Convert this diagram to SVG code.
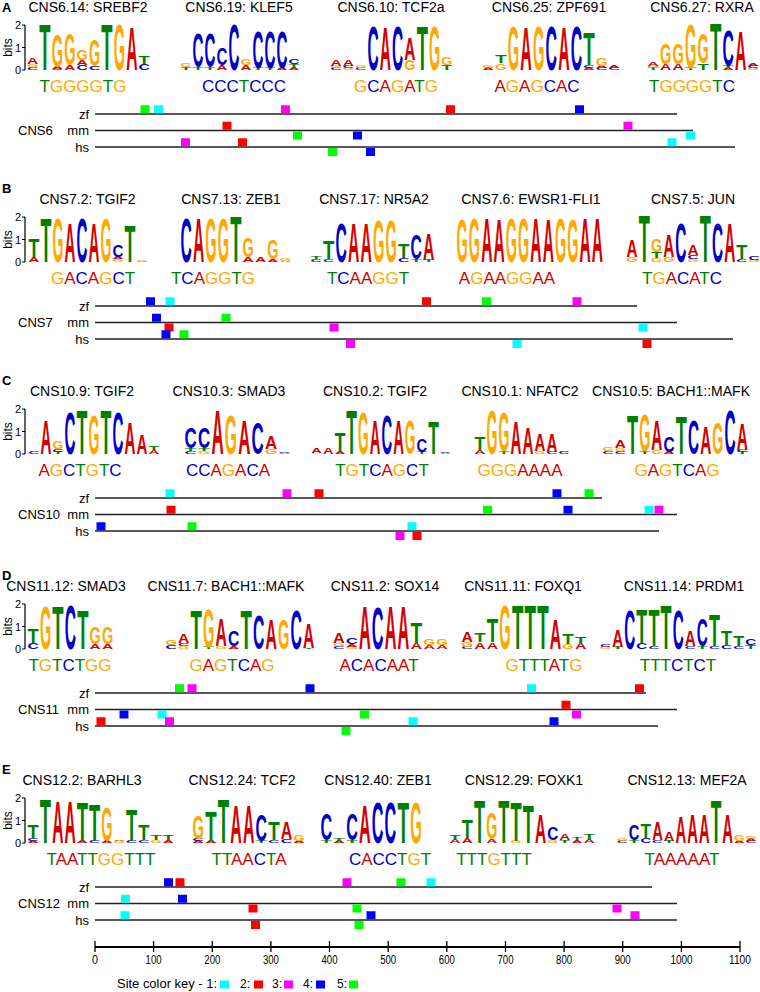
<svg xmlns="http://www.w3.org/2000/svg" width="760" height="992" viewBox="0 0 760 992">
<style>
text{font-family:"Liberation Sans",Arial,Helvetica,sans-serif;fill:#000}
.ttl{font-size:14px;text-anchor:middle}
.pl{font-size:13px;font-weight:bold}
.lg text{font-size:14px;font-weight:bold}
.A{fill:#d40000}.C{fill:#0000c8}.G{fill:#ffa800}.T{fill:#008000}
.cs{font-size:17px;text-anchor:middle}
.trk{font-size:13px}
.tr{text-anchor:end}
.ln{stroke:#222;stroke-width:1.5}
.c1{fill:#00ffff}.c2{fill:#ff0000}.c3{fill:#ff00ff}.c4{fill:#0000ff}.c5{fill:#00ff00}
.ax{font-size:12px;text-anchor:middle}
.yl{font-size:11px;text-anchor:end}
.bits{font-size:12px;text-anchor:middle}
.key{font-size:13px}
</style>

<!-- ================= PANEL A ================= -->
<g id="panelA">
<text class="pl" x="2" y="12">A</text>
<text class="ttl" x="88" y="12">CNS6.14: SREBF2</text>
<text class="ttl" x="239" y="12">CNS6.19: KLEF5</text>
<text class="ttl" x="391" y="12">CNS6.10: TCF2a</text>
<text class="ttl" x="549" y="12">CNS6.25: ZPF691</text>
<text class="ttl" x="702" y="12">CNS6.27: RXRA</text>
<g id="yaxA"><text class="bits" transform="translate(12,47.5) rotate(-90)">bits</text><text class="yl" x="21" y="29">2</text><text class="yl" x="21" y="51.5">1</text><text class="yl" x="21" y="74">0</text><path d="M25 25V70M22 25H25M22 47.5H25M22 70H25" stroke="#000" stroke-width="1.2" fill="none"/></g>
<g id="logoA1" class="lg" transform="translate(26.4,70) scale(1.127,1)">
<text x="0.5" class="C" textLength="10" lengthAdjust="spacingAndGlyphs" transform="scale(1,.3)">C</text>
<text x="0.5" class="G" textLength="10" lengthAdjust="spacingAndGlyphs" transform="translate(0,-3)scale(1,.3)">G</text>
<text x="0.5" class="A" textLength="10" lengthAdjust="spacingAndGlyphs" transform="translate(0,-6)scale(1,.6)">A</text>
<text x="11.5" class="T" textLength="10" lengthAdjust="spacingAndGlyphs" transform="scale(1,4.6)">T</text>
<text x="22.5" class="C" textLength="10" lengthAdjust="spacingAndGlyphs" transform="scale(1,.15)">C</text>
<text x="22.5" class="A" textLength="10" lengthAdjust="spacingAndGlyphs" transform="translate(0,-1.5)scale(1,.2)">A</text>
<text x="22.5" class="G" textLength="10" lengthAdjust="spacingAndGlyphs" transform="translate(0,-3.5)scale(1,3.3)">G</text>
<text x="33.5" class="A" textLength="10" lengthAdjust="spacingAndGlyphs" transform="scale(1,.5)">A</text>
<text x="33.5" class="G" textLength="10" lengthAdjust="spacingAndGlyphs" transform="translate(0,-5)scale(1,3.2)">G</text>
<text x="44.5" class="C" textLength="10" lengthAdjust="spacingAndGlyphs" transform="scale(1,.5)">C</text>
<text x="44.5" class="A" textLength="10" lengthAdjust="spacingAndGlyphs" transform="translate(0,-5)scale(1,.5)">A</text>
<text x="44.5" class="G" textLength="10" lengthAdjust="spacingAndGlyphs" transform="translate(0,-10)scale(1,1)">G</text>
<text x="55.5" class="C" textLength="10" lengthAdjust="spacingAndGlyphs" transform="scale(1,.4)">C</text>
<text x="55.5" class="G" textLength="10" lengthAdjust="spacingAndGlyphs" transform="translate(0,-4)scale(1,2.6)">G</text>
<text x="66.5" class="T" textLength="10" lengthAdjust="spacingAndGlyphs" transform="scale(1,4.6)">T</text>
<text x="77.5" class="G" textLength="10" lengthAdjust="spacingAndGlyphs" transform="scale(1,4.6)">G</text>
<text x="88.5" class="A" textLength="10" lengthAdjust="spacingAndGlyphs" transform="scale(1,4.3)">A</text>
<text x="99.5" class="C" textLength="10" lengthAdjust="spacingAndGlyphs" transform="scale(1,.6)">C</text>
<text x="99.5" class="T" textLength="10" lengthAdjust="spacingAndGlyphs" transform="translate(0,-6)scale(1,.8)">T</text>
</g>
<g id="logoA2" class="lg" transform="translate(180,70) scale(1.091,1)">
<text x="0.5" class="T" textLength="10" lengthAdjust="spacingAndGlyphs" transform="scale(1,.3)">T</text>
<text x="0.5" class="G" textLength="10" lengthAdjust="spacingAndGlyphs" transform="translate(0,-3)scale(1,.4)">G</text>
<text x="11.5" class="T" textLength="10" lengthAdjust="spacingAndGlyphs" transform="scale(1,.3)">T</text>
<text x="11.5" class="C" textLength="10" lengthAdjust="spacingAndGlyphs" transform="translate(0,-3)scale(1,3.5)">C</text>
<text x="22.5" class="T" textLength="10" lengthAdjust="spacingAndGlyphs" transform="scale(1,.3)">T</text>
<text x="22.5" class="C" textLength="10" lengthAdjust="spacingAndGlyphs" transform="translate(0,-3)scale(1,3.5)">C</text>
<text x="33.5" class="A" textLength="10" lengthAdjust="spacingAndGlyphs" transform="scale(1,.5)">A</text>
<text x="33.5" class="C" textLength="10" lengthAdjust="spacingAndGlyphs" transform="translate(0,-5)scale(1,1.7)">C</text>
<text x="44.5" class="C" textLength="10" lengthAdjust="spacingAndGlyphs" transform="scale(1,4.6)">C</text>
<text x="55.5" class="A" textLength="10" lengthAdjust="spacingAndGlyphs" transform="scale(1,.5)">A</text>
<text x="55.5" class="G" textLength="10" lengthAdjust="spacingAndGlyphs" transform="translate(0,-5)scale(1,.6)">G</text>
<text x="66.5" class="T" textLength="10" lengthAdjust="spacingAndGlyphs" transform="scale(1,.2)">T</text>
<text x="66.5" class="C" textLength="10" lengthAdjust="spacingAndGlyphs" transform="translate(0,-2)scale(1,3.7)">C</text>
<text x="77.5" class="T" textLength="10" lengthAdjust="spacingAndGlyphs" transform="scale(1,.2)">T</text>
<text x="77.5" class="C" textLength="10" lengthAdjust="spacingAndGlyphs" transform="translate(0,-2)scale(1,3.7)">C</text>
<text x="88.5" class="A" textLength="10" lengthAdjust="spacingAndGlyphs" transform="scale(1,.2)">A</text>
<text x="88.5" class="C" textLength="10" lengthAdjust="spacingAndGlyphs" transform="translate(0,-2)scale(1,3.7)">C</text>
<text x="99.5" class="A" textLength="10" lengthAdjust="spacingAndGlyphs" transform="scale(1,.3)">A</text>
<text x="99.5" class="T" textLength="10" lengthAdjust="spacingAndGlyphs" transform="translate(0,-3)scale(1,.3)">T</text>
<text x="99.5" class="C" textLength="10" lengthAdjust="spacingAndGlyphs" transform="translate(0,-6)scale(1,.5)">C</text>
</g>
<g id="logoA3" class="lg" transform="translate(330,70) scale(1.118,1)">
<text x="0.5" class="C" textLength="10" lengthAdjust="spacingAndGlyphs" transform="scale(1,.2)">C</text>
<text x="0.5" class="G" textLength="10" lengthAdjust="spacingAndGlyphs" transform="translate(0,-2)scale(1,.2)">G</text>
<text x="0.5" class="A" textLength="10" lengthAdjust="spacingAndGlyphs" transform="translate(0,-4)scale(1,.6)">A</text>
<text x="11.5" class="G" textLength="10" lengthAdjust="spacingAndGlyphs" transform="scale(1,.2)">G</text>
<text x="11.5" class="C" textLength="10" lengthAdjust="spacingAndGlyphs" transform="translate(0,-2)scale(1,.2)">C</text>
<text x="11.5" class="A" textLength="10" lengthAdjust="spacingAndGlyphs" transform="translate(0,-4)scale(1,.6)">A</text>
<text x="22.5" class="C" textLength="10" lengthAdjust="spacingAndGlyphs" transform="scale(1,.2)">C</text>
<text x="22.5" class="G" textLength="10" lengthAdjust="spacingAndGlyphs" transform="translate(0,-2)scale(1,.3)">G</text>
<text x="33.5" class="C" textLength="10" lengthAdjust="spacingAndGlyphs" transform="scale(1,4.5)">C</text>
<text x="44.5" class="A" textLength="10" lengthAdjust="spacingAndGlyphs" transform="scale(1,4.3)">A</text>
<text x="55.5" class="C" textLength="10" lengthAdjust="spacingAndGlyphs" transform="scale(1,4.5)">C</text>
<text x="66.5" class="G" textLength="10" lengthAdjust="spacingAndGlyphs" transform="scale(1,1)">G</text>
<text x="66.5" class="A" textLength="10" lengthAdjust="spacingAndGlyphs" transform="translate(0,-10)scale(1,2.3)">A</text>
<text x="77.5" class="T" textLength="10" lengthAdjust="spacingAndGlyphs" transform="scale(1,4.5)">T</text>
<text x="88.5" class="G" textLength="10" lengthAdjust="spacingAndGlyphs" transform="scale(1,4.5)">G</text>
<text x="99.5" class="T" textLength="10" lengthAdjust="spacingAndGlyphs" transform="scale(1,.5)">T</text>
<text x="99.5" class="G" textLength="10" lengthAdjust="spacingAndGlyphs" transform="translate(0,-5)scale(1,.8)">G</text>
</g>
<g id="logoA4" class="lg" transform="translate(482,70) scale(1.145,1)">
<text x="0.5" class="A" textLength="10" lengthAdjust="spacingAndGlyphs" transform="scale(1,.2)">A</text>
<text x="0.5" class="G" textLength="10" lengthAdjust="spacingAndGlyphs" transform="translate(0,-2)scale(1,.3)">G</text>
<text x="11.5" class="G" textLength="10" lengthAdjust="spacingAndGlyphs" transform="scale(1,.7)">G</text>
<text x="11.5" class="T" textLength="10" lengthAdjust="spacingAndGlyphs" transform="translate(0,-7)scale(1,.8)">T</text>
<text x="22.5" class="G" textLength="10" lengthAdjust="spacingAndGlyphs" transform="scale(1,4.5)">G</text>
<text x="33.5" class="A" textLength="10" lengthAdjust="spacingAndGlyphs" transform="scale(1,4.3)">A</text>
<text x="44.5" class="G" textLength="10" lengthAdjust="spacingAndGlyphs" transform="scale(1,4.5)">G</text>
<text x="55.5" class="C" textLength="10" lengthAdjust="spacingAndGlyphs" transform="scale(1,4.5)">C</text>
<text x="66.5" class="A" textLength="10" lengthAdjust="spacingAndGlyphs" transform="scale(1,4.3)">A</text>
<text x="77.5" class="C" textLength="10" lengthAdjust="spacingAndGlyphs" transform="scale(1,4.5)">C</text>
<text x="88.5" class="A" textLength="10" lengthAdjust="spacingAndGlyphs" transform="scale(1,.2)">A</text>
<text x="88.5" class="C" textLength="10" lengthAdjust="spacingAndGlyphs" transform="translate(0,-2)scale(1,.3)">C</text>
<text x="88.5" class="T" textLength="10" lengthAdjust="spacingAndGlyphs" transform="translate(0,-5)scale(1,3.3)">T</text>
<text x="99.5" class="C" textLength="10" lengthAdjust="spacingAndGlyphs" transform="scale(1,.2)">C</text>
<text x="99.5" class="A" textLength="10" lengthAdjust="spacingAndGlyphs" transform="translate(0,-2)scale(1,.2)">A</text>
<text x="99.5" class="G" textLength="10" lengthAdjust="spacingAndGlyphs" transform="translate(0,-4)scale(1,.8)">G</text>
<text x="110.5" class="C" textLength="10" lengthAdjust="spacingAndGlyphs" transform="scale(1,.2)">C</text>
<text x="110.5" class="A" textLength="10" lengthAdjust="spacingAndGlyphs" transform="translate(0,-2)scale(1,.2)">A</text>
</g>
<g id="logoA5" class="lg" transform="translate(647,70) scale(1.136,1)">
<text x="0.5" class="T" textLength="10" lengthAdjust="spacingAndGlyphs" transform="scale(1,.2)">T</text>
<text x="0.5" class="G" textLength="10" lengthAdjust="spacingAndGlyphs" transform="translate(0,-2)scale(1,.2)">G</text>
<text x="0.5" class="A" textLength="10" lengthAdjust="spacingAndGlyphs" transform="translate(0,-4)scale(1,.4)">A</text>
<text x="11.5" class="A" textLength="10" lengthAdjust="spacingAndGlyphs" transform="scale(1,.6)">A</text>
<text x="11.5" class="G" textLength="10" lengthAdjust="spacingAndGlyphs" transform="translate(0,-6)scale(1,2.1)">G</text>
<text x="22.5" class="A" textLength="10" lengthAdjust="spacingAndGlyphs" transform="scale(1,.6)">A</text>
<text x="22.5" class="G" textLength="10" lengthAdjust="spacingAndGlyphs" transform="translate(0,-6)scale(1,2.1)">G</text>
<text x="33.5" class="T" textLength="10" lengthAdjust="spacingAndGlyphs" transform="scale(1,.2)">T</text>
<text x="33.5" class="G" textLength="10" lengthAdjust="spacingAndGlyphs" transform="translate(0,-2)scale(1,4.5)">G</text>
<text x="44.5" class="T" textLength="10" lengthAdjust="spacingAndGlyphs" transform="scale(1,.7)">T</text>
<text x="44.5" class="G" textLength="10" lengthAdjust="spacingAndGlyphs" transform="translate(0,-7)scale(1,3.1)">G</text>
<text x="55.5" class="T" textLength="10" lengthAdjust="spacingAndGlyphs" transform="scale(1,4.7)">T</text>
<text x="66.5" class="A" textLength="10" lengthAdjust="spacingAndGlyphs" transform="scale(1,.2)">A</text>
<text x="66.5" class="T" textLength="10" lengthAdjust="spacingAndGlyphs" transform="translate(0,-2)scale(1,.2)">T</text>
<text x="66.5" class="C" textLength="10" lengthAdjust="spacingAndGlyphs" transform="translate(0,-4)scale(1,3.6)">C</text>
<text x="77.5" class="A" textLength="10" lengthAdjust="spacingAndGlyphs" transform="scale(1,4)">A</text>
<text x="88.5" class="G" textLength="10" lengthAdjust="spacingAndGlyphs" transform="scale(1,.2)">G</text>
<text x="88.5" class="C" textLength="10" lengthAdjust="spacingAndGlyphs" transform="translate(0,-2)scale(1,.2)">C</text>
<text x="88.5" class="A" textLength="10" lengthAdjust="spacingAndGlyphs" transform="translate(0,-4)scale(1,.2)">A</text>
</g>
<g id="consA">
<text class="cs" x="83" y="92"><tspan class="T">T</tspan><tspan class="G">GGGG</tspan><tspan class="T">T</tspan><tspan class="G">G</tspan></text>
<text class="cs" x="244" y="92"><tspan class="C">CCC</tspan><tspan class="T">T</tspan><tspan class="C">CCC</tspan></text>
<text class="cs" x="396" y="92"><tspan class="G">G</tspan><tspan class="C">C</tspan><tspan class="A">A</tspan><tspan class="G">G</tspan><tspan class="A">A</tspan><tspan class="T">T</tspan><tspan class="G">G</tspan></text>
<text class="cs" x="537" y="92"><tspan class="A">A</tspan><tspan class="G">G</tspan><tspan class="A">A</tspan><tspan class="G">G</tspan><tspan class="C">C</tspan><tspan class="A">A</tspan><tspan class="C">C</tspan></text>
<text class="cs" x="692" y="92"><tspan class="T">T</tspan><tspan class="G">GGGG</tspan><tspan class="T">T</tspan><tspan class="C">C</tspan></text>
</g>
<g id="trackA">
<text class="trk tr" x="89" y="118.5">zf</text><text class="trk tr" x="89" y="135">mm</text><text class="trk tr" x="89" y="151.5">hs</text><text class="trk" x="18" y="135">CNS6</text>
<path class="ln" d="M95 114H677M95 130.5H693M95 147H735"/>
<rect class="c5" x="140.5" y="105.25" width="9" height="8"/><rect class="c1" x="154" y="105.25" width="9" height="8"/><rect class="c3" x="281" y="105.25" width="9" height="8"/><rect class="c2" x="446" y="105.25" width="9" height="8"/><rect class="c4" x="575" y="105.25" width="9" height="8"/>
<rect class="c2" x="222.5" y="121.75" width="9" height="8"/><rect class="c5" x="293" y="131.5" width="9" height="8"/><rect class="c4" x="353" y="131.5" width="9" height="8"/><rect class="c3" x="623.5" y="121.75" width="9" height="8"/><rect class="c1" x="686" y="131.5" width="9" height="8"/>
<rect class="c3" x="181" y="138.25" width="9" height="8"/><rect class="c2" x="238" y="138.25" width="9" height="8"/><rect class="c5" x="328" y="148" width="9" height="8"/><rect class="c4" x="366" y="148" width="9" height="8"/><rect class="c1" x="667.5" y="138.25" width="9" height="8"/>
</g>
</g>

<!-- ================= PANEL B ================= -->
<g id="panelB" transform="translate(0,192)">
<text class="pl" x="2" y="1">B</text>
<text class="ttl" x="87.5" y="12">CNS7.2: TGIF2</text>
<text class="ttl" x="231" y="12">CNS7.13: ZEB1</text>
<text class="ttl" x="374" y="12">CNS7.17: NR5A2</text>
<text class="ttl" x="531" y="12">CNS7.6: EWSR1-FLI1</text>
<text class="ttl" x="693" y="12">CNS7.5: JUN</text>
<g id="yaxB"><text class="bits" transform="translate(12,47.5) rotate(-90)">bits</text><text class="yl" x="21" y="29">2</text><text class="yl" x="21" y="51.5">1</text><text class="yl" x="21" y="74">0</text><path d="M25 25V70M22 25H25M22 47.5H25M22 70H25" stroke="#000" stroke-width="1.2" fill="none"/></g>
<g id="logoB1" class="lg" transform="translate(28,70) scale(1.091,1)">
<text x="0.5" class="A" textLength="10" lengthAdjust="spacingAndGlyphs" transform="scale(1,.5)">A</text>
<text x="0.5" class="T" textLength="10" lengthAdjust="spacingAndGlyphs" transform="translate(0,-5)scale(1,1.8)">T</text>
<text x="11.5" class="T" textLength="10" lengthAdjust="spacingAndGlyphs" transform="scale(1,4.5)">T</text>
<text x="22.5" class="G" textLength="10" lengthAdjust="spacingAndGlyphs" transform="scale(1,4.5)">G</text>
<text x="33.5" class="A" textLength="10" lengthAdjust="spacingAndGlyphs" transform="scale(1,4)">A</text>
<text x="44.5" class="C" textLength="10" lengthAdjust="spacingAndGlyphs" transform="scale(1,4.5)">C</text>
<text x="55.5" class="A" textLength="10" lengthAdjust="spacingAndGlyphs" transform="scale(1,4)">A</text>
<text x="66.5" class="G" textLength="10" lengthAdjust="spacingAndGlyphs" transform="scale(1,4.5)">G</text>
<text x="77.5" class="G" textLength="10" lengthAdjust="spacingAndGlyphs" transform="scale(1,.3)">G</text>
<text x="77.5" class="A" textLength="10" lengthAdjust="spacingAndGlyphs" transform="translate(0,-3)scale(1,.2)">A</text>
<text x="77.5" class="C" textLength="10" lengthAdjust="spacingAndGlyphs" transform="translate(0,-5)scale(1,1.2)">C</text>
<text x="88.5" class="T" textLength="10" lengthAdjust="spacingAndGlyphs" transform="scale(1,3.7)">T</text>
<text x="99.5" class="A" textLength="10" lengthAdjust="spacingAndGlyphs" transform="scale(1,.15)">A</text>
<text x="99.5" class="G" textLength="10" lengthAdjust="spacingAndGlyphs" transform="translate(0,-1.5)scale(1,.15)">G</text>
</g>
<g id="logoB2" class="lg" transform="translate(180,70) scale(1.127,1)">
<text x="0.5" class="C" textLength="10" lengthAdjust="spacingAndGlyphs" transform="scale(1,4.5)">C</text>
<text x="11.5" class="A" textLength="10" lengthAdjust="spacingAndGlyphs" transform="scale(1,4.5)">A</text>
<text x="22.5" class="G" textLength="10" lengthAdjust="spacingAndGlyphs" transform="scale(1,4.5)">G</text>
<text x="33.5" class="G" textLength="10" lengthAdjust="spacingAndGlyphs" transform="scale(1,4.5)">G</text>
<text x="44.5" class="T" textLength="10" lengthAdjust="spacingAndGlyphs" transform="scale(1,4.6)">T</text>
<text x="55.5" class="A" textLength="10" lengthAdjust="spacingAndGlyphs" transform="scale(1,.5)">A</text>
<text x="55.5" class="G" textLength="10" lengthAdjust="spacingAndGlyphs" transform="translate(0,-5)scale(1,2)">G</text>
<text x="66.5" class="A" textLength="10" lengthAdjust="spacingAndGlyphs" transform="scale(1,.5)">A</text>
<text x="77.5" class="A" textLength="10" lengthAdjust="spacingAndGlyphs" transform="scale(1,.3)">A</text>
<text x="77.5" class="G" textLength="10" lengthAdjust="spacingAndGlyphs" transform="translate(0,-3)scale(1,2)">G</text>
<text x="88.5" class="A" textLength="10" lengthAdjust="spacingAndGlyphs" transform="scale(1,.1)">A</text>
<text x="88.5" class="G" textLength="10" lengthAdjust="spacingAndGlyphs" transform="translate(0,-1)scale(1,.2)">G</text>
</g>
<g id="logoB3" class="lg" transform="translate(310,70) scale(1.136,1)">
<text x="0.5" class="C" textLength="10" lengthAdjust="spacingAndGlyphs" transform="scale(1,.3)">C</text>
<text x="0.5" class="T" textLength="10" lengthAdjust="spacingAndGlyphs" transform="translate(0,-3)scale(1,.3)">T</text>
<text x="11.5" class="C" textLength="10" lengthAdjust="spacingAndGlyphs" transform="scale(1,.3)">C</text>
<text x="11.5" class="T" textLength="10" lengthAdjust="spacingAndGlyphs" transform="translate(0,-3)scale(1,1.8)">T</text>
<text x="22.5" class="C" textLength="10" lengthAdjust="spacingAndGlyphs" transform="scale(1,4)">C</text>
<text x="33.5" class="A" textLength="10" lengthAdjust="spacingAndGlyphs" transform="scale(1,4)">A</text>
<text x="44.5" class="A" textLength="10" lengthAdjust="spacingAndGlyphs" transform="scale(1,4)">A</text>
<text x="55.5" class="G" textLength="10" lengthAdjust="spacingAndGlyphs" transform="scale(1,4.2)">G</text>
<text x="66.5" class="G" textLength="10" lengthAdjust="spacingAndGlyphs" transform="scale(1,4.2)">G</text>
<text x="77.5" class="C" textLength="10" lengthAdjust="spacingAndGlyphs" transform="scale(1,.4)">C</text>
<text x="77.5" class="T" textLength="10" lengthAdjust="spacingAndGlyphs" transform="translate(0,-4)scale(1,1.4)">T</text>
<text x="88.5" class="T" textLength="10" lengthAdjust="spacingAndGlyphs" transform="scale(1,.3)">T</text>
<text x="88.5" class="C" textLength="10" lengthAdjust="spacingAndGlyphs" transform="translate(0,-3)scale(1,2.5)">C</text>
<text x="99.5" class="T" textLength="10" lengthAdjust="spacingAndGlyphs" transform="scale(1,.2)">T</text>
<text x="99.5" class="A" textLength="10" lengthAdjust="spacingAndGlyphs" transform="translate(0,-2)scale(1,2.6)">A</text>
</g>
<g id="logoB4" class="lg" transform="translate(456,70) scale(1.118,1)">
<text x="0.5" class="G" textLength="10" lengthAdjust="spacingAndGlyphs" transform="scale(1,4.4)">G</text>
<text x="11.5" class="G" textLength="10" lengthAdjust="spacingAndGlyphs" transform="scale(1,4.5)">G</text>
<text x="22.5" class="A" textLength="10" lengthAdjust="spacingAndGlyphs" transform="scale(1,4.5)">A</text>
<text x="33.5" class="A" textLength="10" lengthAdjust="spacingAndGlyphs" transform="scale(1,4.4)">A</text>
<text x="44.5" class="G" textLength="10" lengthAdjust="spacingAndGlyphs" transform="scale(1,4.5)">G</text>
<text x="55.5" class="G" textLength="10" lengthAdjust="spacingAndGlyphs" transform="scale(1,4.5)">G</text>
<text x="66.5" class="A" textLength="10" lengthAdjust="spacingAndGlyphs" transform="scale(1,4.5)">A</text>
<text x="77.5" class="A" textLength="10" lengthAdjust="spacingAndGlyphs" transform="scale(1,4.4)">A</text>
<text x="88.5" class="G" textLength="10" lengthAdjust="spacingAndGlyphs" transform="scale(1,4.5)">G</text>
<text x="99.5" class="G" textLength="10" lengthAdjust="spacingAndGlyphs" transform="scale(1,4.4)">G</text>
<text x="110.5" class="A" textLength="10" lengthAdjust="spacingAndGlyphs" transform="scale(1,4.5)">A</text>
<text x="121.5" class="A" textLength="10" lengthAdjust="spacingAndGlyphs" transform="scale(1,4.5)">A</text>
</g>
<g id="logoB5" class="lg" transform="translate(626,70) scale(1.109,1)">
<text x="0.5" class="G" textLength="10" lengthAdjust="spacingAndGlyphs" transform="scale(1,.5)">G</text>
<text x="0.5" class="A" textLength="10" lengthAdjust="spacingAndGlyphs" transform="translate(0,-5)scale(1,1.7)">A</text>
<text x="11.5" class="T" textLength="10" lengthAdjust="spacingAndGlyphs" transform="scale(1,4.7)">T</text>
<text x="22.5" class="G" textLength="10" lengthAdjust="spacingAndGlyphs" transform="scale(1,.4)">G</text>
<text x="22.5" class="T" textLength="10" lengthAdjust="spacingAndGlyphs" transform="translate(0,-4)scale(1,.6)">T</text>
<text x="22.5" class="G" textLength="10" lengthAdjust="spacingAndGlyphs" transform="translate(0,-10)scale(1,1.3)">G</text>
<text x="33.5" class="G" textLength="10" lengthAdjust="spacingAndGlyphs" transform="scale(1,.5)">G</text>
<text x="33.5" class="A" textLength="10" lengthAdjust="spacingAndGlyphs" transform="translate(0,-5)scale(1,2.2)">A</text>
<text x="44.5" class="C" textLength="10" lengthAdjust="spacingAndGlyphs" transform="scale(1,4)">C</text>
<text x="55.5" class="G" textLength="10" lengthAdjust="spacingAndGlyphs" transform="scale(1,.3)">G</text>
<text x="55.5" class="C" textLength="10" lengthAdjust="spacingAndGlyphs" transform="translate(0,-3)scale(1,.4)">C</text>
<text x="55.5" class="A" textLength="10" lengthAdjust="spacingAndGlyphs" transform="translate(0,-7)scale(1,1.1)">A</text>
<text x="66.5" class="T" textLength="10" lengthAdjust="spacingAndGlyphs" transform="scale(1,4.7)">T</text>
<text x="77.5" class="C" textLength="10" lengthAdjust="spacingAndGlyphs" transform="scale(1,4)">C</text>
<text x="88.5" class="A" textLength="10" lengthAdjust="spacingAndGlyphs" transform="scale(1,4)">A</text>
<text x="99.5" class="C" textLength="10" lengthAdjust="spacingAndGlyphs" transform="scale(1,.3)">C</text>
<text x="99.5" class="T" textLength="10" lengthAdjust="spacingAndGlyphs" transform="translate(0,-3)scale(1,1.5)">T</text>
<text x="110.5" class="G" textLength="10" lengthAdjust="spacingAndGlyphs" transform="scale(1,.2)">G</text>
<text x="110.5" class="C" textLength="10" lengthAdjust="spacingAndGlyphs" transform="translate(0,-2)scale(1,.4)">C</text>
</g>
<g id="consB">
<text class="cs" x="93" y="92"><tspan class="G">G</tspan><tspan class="A">A</tspan><tspan class="C">C</tspan><tspan class="A">A</tspan><tspan class="G">G</tspan><tspan class="C">C</tspan><tspan class="T">T</tspan></text>
<text class="cs" x="213" y="92"><tspan class="T">T</tspan><tspan class="C">C</tspan><tspan class="A">A</tspan><tspan class="G">GG</tspan><tspan class="T">T</tspan><tspan class="G">G</tspan></text>
<text class="cs" x="368" y="92"><tspan class="T">T</tspan><tspan class="C">C</tspan><tspan class="A">AA</tspan><tspan class="G">GG</tspan><tspan class="T">T</tspan></text>
<text class="cs" x="507" y="92"><tspan class="A">A</tspan><tspan class="G">G</tspan><tspan class="A">AA</tspan><tspan class="G">GG</tspan><tspan class="A">AA</tspan></text>
<text class="cs" x="682" y="92"><tspan class="T">T</tspan><tspan class="G">G</tspan><tspan class="A">A</tspan><tspan class="C">C</tspan><tspan class="A">A</tspan><tspan class="T">T</tspan><tspan class="C">C</tspan></text>
</g>
<g id="trackB">
<text class="trk tr" x="89" y="118.5">zf</text><text class="trk tr" x="89" y="135">mm</text><text class="trk tr" x="89" y="151.5">hs</text><text class="trk" x="18" y="135">CNS7</text>
<path class="ln" d="M95 114H637M95 130.5H677M95 147H733"/>
<rect class="c4" x="146" y="105.25" width="9" height="8"/><rect class="c1" x="165.5" y="105.25" width="9" height="8"/><rect class="c2" x="422" y="105.25" width="9" height="8"/><rect class="c5" x="482" y="105.25" width="9" height="8"/><rect class="c3" x="572.5" y="105.25" width="9" height="8"/>
<rect class="c4" x="152" y="121.75" width="9" height="8"/><rect class="c2" x="164.5" y="131.5" width="9" height="8"/><rect class="c5" x="221.5" y="121.75" width="9" height="8"/><rect class="c3" x="329.5" y="131.5" width="9" height="8"/><rect class="c1" x="638.5" y="131.5" width="9" height="8"/>
<rect class="c4" x="161.5" y="138.25" width="9" height="8"/><rect class="c5" x="179.5" y="138.25" width="9" height="8"/><rect class="c3" x="346" y="148" width="9" height="8"/><rect class="c1" x="512.5" y="148" width="9" height="8"/><rect class="c2" x="642.5" y="148" width="9" height="8"/>
</g>
</g>

<!-- ================= PANEL C ================= -->
<g id="panelC" transform="translate(0,384)">
<text class="pl" x="2" y="1">C</text>
<text class="ttl" x="82" y="12">CNS10.9: TGIF2</text>
<text class="ttl" x="229" y="12">CNS10.3: SMAD3</text>
<text class="ttl" x="375" y="12">CNS10.2: TGIF2</text>
<text class="ttl" x="520" y="12">CNS10.1: NFATC2</text>
<text class="ttl" x="671" y="12">CNS10.5: BACH1::MAFK</text>
<g id="yaxC"><text class="bits" transform="translate(12,47.5) rotate(-90)">bits</text><text class="yl" x="21" y="29">2</text><text class="yl" x="21" y="51.5">1</text><text class="yl" x="21" y="74">0</text><path d="M25 25V70M22 25H25M22 47.5H25M22 70H25" stroke="#000" stroke-width="1.2" fill="none"/></g>
<g id="logoC1" class="lg" transform="translate(28,70) scale(1.091,1)">
<text x="0.5" class="C" textLength="10" lengthAdjust="spacingAndGlyphs" transform="scale(1,.2)">C</text>
<text x="11.5" class="A" textLength="10" lengthAdjust="spacingAndGlyphs" transform="scale(1,3.5)">A</text>
<text x="22.5" class="T" textLength="10" lengthAdjust="spacingAndGlyphs" transform="scale(1,.2)">T</text>
<text x="22.5" class="C" textLength="10" lengthAdjust="spacingAndGlyphs" transform="translate(0,-2)scale(1,.3)">C</text>
<text x="22.5" class="G" textLength="10" lengthAdjust="spacingAndGlyphs" transform="translate(0,-5)scale(1,.8)">G</text>
<text x="33.5" class="C" textLength="10" lengthAdjust="spacingAndGlyphs" transform="scale(1,4.2)">C</text>
<text x="44.5" class="T" textLength="10" lengthAdjust="spacingAndGlyphs" transform="scale(1,4.5)">T</text>
<text x="55.5" class="G" textLength="10" lengthAdjust="spacingAndGlyphs" transform="scale(1,4)">G</text>
<text x="66.5" class="T" textLength="10" lengthAdjust="spacingAndGlyphs" transform="scale(1,4.5)">T</text>
<text x="77.5" class="C" textLength="10" lengthAdjust="spacingAndGlyphs" transform="scale(1,4.2)">C</text>
<text x="88.5" class="A" textLength="10" lengthAdjust="spacingAndGlyphs" transform="scale(1,3.2)">A</text>
<text x="99.5" class="A" textLength="10" lengthAdjust="spacingAndGlyphs" transform="scale(1,2)">A</text>
<text x="110.5" class="A" textLength="10" lengthAdjust="spacingAndGlyphs" transform="scale(1,.4)">A</text>
<text x="110.5" class="T" textLength="10" lengthAdjust="spacingAndGlyphs" transform="translate(0,-4)scale(1,.4)">T</text>
</g>
<g id="logoC2" class="lg" transform="translate(184,70) scale(1.218,1)">
<text x="0.5" class="C" textLength="10" lengthAdjust="spacingAndGlyphs" transform="scale(1,.3)">C</text>
<text x="0.5" class="T" textLength="10" lengthAdjust="spacingAndGlyphs" transform="translate(0,-3)scale(1,.3)">T</text>
<text x="0.5" class="C" textLength="10" lengthAdjust="spacingAndGlyphs" transform="translate(0,-6)scale(1,2.1)">C</text>
<text x="11.5" class="G" textLength="10" lengthAdjust="spacingAndGlyphs" transform="scale(1,.3)">G</text>
<text x="11.5" class="T" textLength="10" lengthAdjust="spacingAndGlyphs" transform="translate(0,-3)scale(1,.3)">T</text>
<text x="11.5" class="C" textLength="10" lengthAdjust="spacingAndGlyphs" transform="translate(0,-6)scale(1,2.1)">C</text>
<text x="22.5" class="A" textLength="10" lengthAdjust="spacingAndGlyphs" transform="scale(1,4.5)">A</text>
<text x="33.5" class="G" textLength="10" lengthAdjust="spacingAndGlyphs" transform="scale(1,4)">G</text>
<text x="44.5" class="A" textLength="10" lengthAdjust="spacingAndGlyphs" transform="scale(1,3.5)">A</text>
<text x="55.5" class="C" textLength="10" lengthAdjust="spacingAndGlyphs" transform="scale(1,3.2)">C</text>
<text x="66.5" class="G" textLength="10" lengthAdjust="spacingAndGlyphs" transform="scale(1,.5)">G</text>
<text x="66.5" class="A" textLength="10" lengthAdjust="spacingAndGlyphs" transform="translate(0,-5)scale(1,1.3)">A</text>
<text x="77.5" class="A" textLength="10" lengthAdjust="spacingAndGlyphs" transform="scale(1,.1)">A</text>
<text x="77.5" class="C" textLength="10" lengthAdjust="spacingAndGlyphs" transform="translate(0,-1)scale(1,.1)">C</text>
</g>
<g id="logoC3" class="lg" transform="translate(310.7,70) scale(1.064,1)">
<text x="0.5" class="G" textLength="10" lengthAdjust="spacingAndGlyphs" transform="scale(1,.1)">G</text>
<text x="0.5" class="A" textLength="10" lengthAdjust="spacingAndGlyphs" transform="translate(0,-1)scale(1,.5)">A</text>
<text x="11.5" class="A" textLength="10" lengthAdjust="spacingAndGlyphs" transform="scale(1,.6)">A</text>
<text x="22.5" class="A" textLength="10" lengthAdjust="spacingAndGlyphs" transform="scale(1,.2)">A</text>
<text x="22.5" class="T" textLength="10" lengthAdjust="spacingAndGlyphs" transform="translate(0,-2)scale(1,2)">T</text>
<text x="33.5" class="T" textLength="10" lengthAdjust="spacingAndGlyphs" transform="scale(1,4.5)">T</text>
<text x="44.5" class="G" textLength="10" lengthAdjust="spacingAndGlyphs" transform="scale(1,4.2)">G</text>
<text x="55.5" class="A" textLength="10" lengthAdjust="spacingAndGlyphs" transform="scale(1,3.5)">A</text>
<text x="66.5" class="C" textLength="10" lengthAdjust="spacingAndGlyphs" transform="scale(1,4)">C</text>
<text x="77.5" class="A" textLength="10" lengthAdjust="spacingAndGlyphs" transform="scale(1,3.5)">A</text>
<text x="88.5" class="G" textLength="10" lengthAdjust="spacingAndGlyphs" transform="scale(1,3.5)">G</text>
<text x="99.5" class="T" textLength="10" lengthAdjust="spacingAndGlyphs" transform="scale(1,.2)">T</text>
<text x="99.5" class="C" textLength="10" lengthAdjust="spacingAndGlyphs" transform="translate(0,-2)scale(1,1.3)">C</text>
<text x="110.5" class="T" textLength="10" lengthAdjust="spacingAndGlyphs" transform="scale(1,3.3)">T</text>
<text x="121.5" class="A" textLength="10" lengthAdjust="spacingAndGlyphs" transform="scale(1,.15)">A</text>
<text x="121.5" class="C" textLength="10" lengthAdjust="spacingAndGlyphs" transform="translate(0,-1.5)scale(1,.15)">C</text>
</g>
<g id="logoC4" class="lg" transform="translate(474,70) scale(1.091,1)">
<text x="0.5" class="A" textLength="10" lengthAdjust="spacingAndGlyphs" transform="scale(1,.4)">A</text>
<text x="0.5" class="T" textLength="10" lengthAdjust="spacingAndGlyphs" transform="translate(0,-4)scale(1,1.3)">T</text>
<text x="11.5" class="G" textLength="10" lengthAdjust="spacingAndGlyphs" transform="scale(1,4.5)">G</text>
<text x="22.5" class="T" textLength="10" lengthAdjust="spacingAndGlyphs" transform="scale(1,.3)">T</text>
<text x="22.5" class="G" textLength="10" lengthAdjust="spacingAndGlyphs" transform="translate(0,-3)scale(1,4)">G</text>
<text x="33.5" class="A" textLength="10" lengthAdjust="spacingAndGlyphs" transform="scale(1,3.3)">A</text>
<text x="44.5" class="A" textLength="10" lengthAdjust="spacingAndGlyphs" transform="scale(1,2.7)">A</text>
<text x="55.5" class="G" textLength="10" lengthAdjust="spacingAndGlyphs" transform="scale(1,.3)">G</text>
<text x="55.5" class="A" textLength="10" lengthAdjust="spacingAndGlyphs" transform="translate(0,-3)scale(1,1.7)">A</text>
<text x="66.5" class="C" textLength="10" lengthAdjust="spacingAndGlyphs" transform="scale(1,.2)">C</text>
<text x="66.5" class="A" textLength="10" lengthAdjust="spacingAndGlyphs" transform="translate(0,-2)scale(1,1.8)">A</text>
<text x="77.5" class="C" textLength="10" lengthAdjust="spacingAndGlyphs" transform="scale(1,.2)">C</text>
<text x="77.5" class="A" textLength="10" lengthAdjust="spacingAndGlyphs" transform="translate(0,-2)scale(1,.1)">A</text>
</g>
<g id="logoC5" class="lg" transform="translate(602,70) scale(1.109,1)">
<text x="0.5" class="C" textLength="10" lengthAdjust="spacingAndGlyphs" transform="scale(1,.3)">C</text>
<text x="0.5" class="G" textLength="10" lengthAdjust="spacingAndGlyphs" transform="translate(0,-3)scale(1,.4)">G</text>
<text x="11.5" class="C" textLength="10" lengthAdjust="spacingAndGlyphs" transform="scale(1,.3)">C</text>
<text x="11.5" class="G" textLength="10" lengthAdjust="spacingAndGlyphs" transform="translate(0,-3)scale(1,.3)">G</text>
<text x="11.5" class="A" textLength="10" lengthAdjust="spacingAndGlyphs" transform="translate(0,-6)scale(1,.8)">A</text>
<text x="22.5" class="T" textLength="10" lengthAdjust="spacingAndGlyphs" transform="scale(1,4)">T</text>
<text x="33.5" class="T" textLength="10" lengthAdjust="spacingAndGlyphs" transform="scale(1,.3)">T</text>
<text x="33.5" class="G" textLength="10" lengthAdjust="spacingAndGlyphs" transform="translate(0,-3)scale(1,3.7)">G</text>
<text x="44.5" class="G" textLength="10" lengthAdjust="spacingAndGlyphs" transform="scale(1,.4)">G</text>
<text x="44.5" class="A" textLength="10" lengthAdjust="spacingAndGlyphs" transform="translate(0,-4)scale(1,3.1)">A</text>
<text x="55.5" class="A" textLength="10" lengthAdjust="spacingAndGlyphs" transform="scale(1,.2)">A</text>
<text x="55.5" class="C" textLength="10" lengthAdjust="spacingAndGlyphs" transform="translate(0,-2)scale(1,1.6)">C</text>
<text x="66.5" class="T" textLength="10" lengthAdjust="spacingAndGlyphs" transform="scale(1,3.8)">T</text>
<text x="77.5" class="C" textLength="10" lengthAdjust="spacingAndGlyphs" transform="scale(1,3.5)">C</text>
<text x="88.5" class="A" textLength="10" lengthAdjust="spacingAndGlyphs" transform="scale(1,2.8)">A</text>
<text x="99.5" class="G" textLength="10" lengthAdjust="spacingAndGlyphs" transform="scale(1,3.2)">G</text>
<text x="110.5" class="C" textLength="10" lengthAdjust="spacingAndGlyphs" transform="scale(1,4.5)">C</text>
<text x="121.5" class="T" textLength="10" lengthAdjust="spacingAndGlyphs" transform="scale(1,.2)">T</text>
<text x="121.5" class="C" textLength="10" lengthAdjust="spacingAndGlyphs" transform="translate(0,-2)scale(1,.2)">C</text>
<text x="121.5" class="A" textLength="10" lengthAdjust="spacingAndGlyphs" transform="translate(0,-4)scale(1,2.6)">A</text>
</g>
<g id="consC">
<text class="cs" x="80" y="92"><tspan class="A">A</tspan><tspan class="G">G</tspan><tspan class="C">C</tspan><tspan class="T">T</tspan><tspan class="G">G</tspan><tspan class="T">T</tspan><tspan class="C">C</tspan></text>
<text class="cs" x="228" y="92"><tspan class="C">CC</tspan><tspan class="A">A</tspan><tspan class="G">G</tspan><tspan class="A">A</tspan><tspan class="C">C</tspan><tspan class="A">A</tspan></text>
<text class="cs" x="382" y="92"><tspan class="T">T</tspan><tspan class="G">G</tspan><tspan class="T">T</tspan><tspan class="C">C</tspan><tspan class="A">A</tspan><tspan class="G">G</tspan><tspan class="C">C</tspan><tspan class="T">T</tspan></text>
<text class="cs" x="520" y="92"><tspan class="G">GGG</tspan><tspan class="A">AAAA</tspan></text>
<text class="cs" x="677" y="92"><tspan class="G">G</tspan><tspan class="A">A</tspan><tspan class="G">G</tspan><tspan class="T">T</tspan><tspan class="C">C</tspan><tspan class="A">A</tspan><tspan class="G">G</tspan></text>
</g>
<g id="trackC">
<text class="trk tr" x="89" y="118.5">zf</text><text class="trk tr" x="89" y="135">mm</text><text class="trk tr" x="89" y="151.5">hs</text><text class="trk" x="18" y="135">CNS10</text>
<path class="ln" d="M95 114H602M95 130.5H677M95 147H659"/>
<rect class="c1" x="165.5" y="105.25" width="9" height="8"/><rect class="c3" x="282.5" y="105.25" width="9" height="8"/><rect class="c2" x="314.5" y="105.25" width="9" height="8"/><rect class="c4" x="552.5" y="105.25" width="9" height="8"/><rect class="c5" x="584.5" y="105.25" width="9" height="8"/>
<rect class="c2" x="166.5" y="121.75" width="9" height="8"/><rect class="c5" x="483" y="121.75" width="9" height="8"/><rect class="c4" x="563.5" y="121.75" width="9" height="8"/><rect class="c1" x="644.5" y="121.75" width="9" height="8"/><rect class="c3" x="654.5" y="121.75" width="9" height="8"/>
<rect class="c4" x="96.5" y="138.25" width="9" height="8"/><rect class="c5" x="187.5" y="138.25" width="9" height="8"/><rect class="c1" x="407.5" y="138.25" width="9" height="8"/><rect class="c3" x="395.5" y="148" width="9" height="8"/><rect class="c2" x="412.5" y="148" width="9" height="8"/>
</g>
</g>

<!-- ================= PANEL D ================= -->
<g id="panelD" transform="translate(0,579)">
<text class="pl" x="2" y="1">D</text>
<text class="ttl" x="66" y="12">CNS11.12: SMAD3</text>
<text class="ttl" x="226" y="12">CNS11.7: BACH1::MAFK</text>
<text class="ttl" x="385" y="12">CNS11.2: SOX14</text>
<text class="ttl" x="523" y="12">CNS11.11: FOXQ1</text>
<text class="ttl" x="684" y="12">CNS11.14: PRDM1</text>
<g id="yaxD"><text class="bits" transform="translate(12,47.5) rotate(-90)">bits</text><text class="yl" x="21" y="29">2</text><text class="yl" x="21" y="51.5">1</text><text class="yl" x="21" y="74">0</text><path d="M25 25V70M22 25H25M22 47.5H25M22 70H25" stroke="#000" stroke-width="1.2" fill="none"/></g>
<g id="logoD1" class="lg" transform="translate(27,70) scale(1.127,1)">
<text x="0.5" class="C" textLength="10" lengthAdjust="spacingAndGlyphs" transform="scale(1,.6)">C</text>
<text x="0.5" class="T" textLength="10" lengthAdjust="spacingAndGlyphs" transform="translate(0,-6)scale(1,1.4)">T</text>
<text x="11.5" class="G" textLength="10" lengthAdjust="spacingAndGlyphs" transform="scale(1,4.4)">G</text>
<text x="22.5" class="T" textLength="10" lengthAdjust="spacingAndGlyphs" transform="scale(1,4.4)">T</text>
<text x="33.5" class="C" textLength="10" lengthAdjust="spacingAndGlyphs" transform="scale(1,4.5)">C</text>
<text x="44.5" class="T" textLength="10" lengthAdjust="spacingAndGlyphs" transform="scale(1,3.9)">T</text>
<text x="55.5" class="A" textLength="10" lengthAdjust="spacingAndGlyphs" transform="scale(1,.5)">A</text>
<text x="55.5" class="G" textLength="10" lengthAdjust="spacingAndGlyphs" transform="translate(0,-5)scale(1,1.7)">G</text>
<text x="66.5" class="A" textLength="10" lengthAdjust="spacingAndGlyphs" transform="scale(1,.5)">A</text>
<text x="66.5" class="G" textLength="10" lengthAdjust="spacingAndGlyphs" transform="translate(0,-5)scale(1,1.7)">G</text>
</g>
<g id="logoD2" class="lg" transform="translate(165,70) scale(1.136,1)">
<text x="0.5" class="C" textLength="10" lengthAdjust="spacingAndGlyphs" transform="scale(1,.4)">C</text>
<text x="0.5" class="G" textLength="10" lengthAdjust="spacingAndGlyphs" transform="translate(0,-4)scale(1,.5)">G</text>
<text x="11.5" class="G" textLength="10" lengthAdjust="spacingAndGlyphs" transform="scale(1,.3)">G</text>
<text x="11.5" class="C" textLength="10" lengthAdjust="spacingAndGlyphs" transform="translate(0,-3)scale(1,.3)">C</text>
<text x="11.5" class="A" textLength="10" lengthAdjust="spacingAndGlyphs" transform="translate(0,-6)scale(1,.9)">A</text>
<text x="22.5" class="T" textLength="10" lengthAdjust="spacingAndGlyphs" transform="scale(1,4)">T</text>
<text x="33.5" class="T" textLength="10" lengthAdjust="spacingAndGlyphs" transform="scale(1,.2)">T</text>
<text x="33.5" class="G" textLength="10" lengthAdjust="spacingAndGlyphs" transform="translate(0,-2)scale(1,3.8)">G</text>
<text x="44.5" class="G" textLength="10" lengthAdjust="spacingAndGlyphs" transform="scale(1,.3)">G</text>
<text x="44.5" class="A" textLength="10" lengthAdjust="spacingAndGlyphs" transform="translate(0,-3)scale(1,2.8)">A</text>
<text x="55.5" class="A" textLength="10" lengthAdjust="spacingAndGlyphs" transform="scale(1,.3)">A</text>
<text x="55.5" class="C" textLength="10" lengthAdjust="spacingAndGlyphs" transform="translate(0,-3)scale(1,1.6)">C</text>
<text x="66.5" class="T" textLength="10" lengthAdjust="spacingAndGlyphs" transform="scale(1,4)">T</text>
<text x="77.5" class="C" textLength="10" lengthAdjust="spacingAndGlyphs" transform="scale(1,3.4)">C</text>
<text x="88.5" class="A" textLength="10" lengthAdjust="spacingAndGlyphs" transform="scale(1,3.1)">A</text>
<text x="99.5" class="G" textLength="10" lengthAdjust="spacingAndGlyphs" transform="scale(1,3.1)">G</text>
<text x="110.5" class="C" textLength="10" lengthAdjust="spacingAndGlyphs" transform="scale(1,4)">C</text>
<text x="121.5" class="T" textLength="10" lengthAdjust="spacingAndGlyphs" transform="scale(1,.1)">T</text>
<text x="121.5" class="A" textLength="10" lengthAdjust="spacingAndGlyphs" transform="translate(0,-1)scale(1,2.5)">A</text>
</g>
<g id="logoD3" class="lg" transform="translate(332.5,70) scale(1.173,1)">
<text x="0.5" class="C" textLength="10" lengthAdjust="spacingAndGlyphs" transform="scale(1,.3)">C</text>
<text x="0.5" class="G" textLength="10" lengthAdjust="spacingAndGlyphs" transform="translate(0,-3)scale(1,.3)">G</text>
<text x="0.5" class="A" textLength="10" lengthAdjust="spacingAndGlyphs" transform="translate(0,-6)scale(1,1)">A</text>
<text x="11.5" class="G" textLength="10" lengthAdjust="spacingAndGlyphs" transform="scale(1,.2)">G</text>
<text x="11.5" class="A" textLength="10" lengthAdjust="spacingAndGlyphs" transform="translate(0,-2)scale(1,.3)">A</text>
<text x="11.5" class="C" textLength="10" lengthAdjust="spacingAndGlyphs" transform="translate(0,-5)scale(1,.7)">C</text>
<text x="22.5" class="A" textLength="10" lengthAdjust="spacingAndGlyphs" transform="scale(1,4.4)">A</text>
<text x="33.5" class="C" textLength="10" lengthAdjust="spacingAndGlyphs" transform="scale(1,4.2)">C</text>
<text x="44.5" class="A" textLength="10" lengthAdjust="spacingAndGlyphs" transform="scale(1,4.4)">A</text>
<text x="55.5" class="A" textLength="10" lengthAdjust="spacingAndGlyphs" transform="scale(1,4.4)">A</text>
<text x="66.5" class="A" textLength="10" lengthAdjust="spacingAndGlyphs" transform="scale(1,.6)">A</text>
<text x="66.5" class="T" textLength="10" lengthAdjust="spacingAndGlyphs" transform="translate(0,-6)scale(1,2.1)">T</text>
<text x="77.5" class="A" textLength="10" lengthAdjust="spacingAndGlyphs" transform="scale(1,.4)">A</text>
<text x="77.5" class="G" textLength="10" lengthAdjust="spacingAndGlyphs" transform="translate(0,-4)scale(1,.7)">G</text>
<text x="88.5" class="A" textLength="10" lengthAdjust="spacingAndGlyphs" transform="scale(1,.4)">A</text>
<text x="88.5" class="G" textLength="10" lengthAdjust="spacingAndGlyphs" transform="translate(0,-4)scale(1,.7)">G</text>
</g>
<g id="logoD4" class="lg" transform="translate(461,70) scale(1.145,1)">
<text x="0.5" class="C" textLength="10" lengthAdjust="spacingAndGlyphs" transform="scale(1,.2)">C</text>
<text x="0.5" class="G" textLength="10" lengthAdjust="spacingAndGlyphs" transform="translate(0,-2)scale(1,.5)">G</text>
<text x="0.5" class="A" textLength="10" lengthAdjust="spacingAndGlyphs" transform="translate(0,-7)scale(1,1)">A</text>
<text x="11.5" class="A" textLength="10" lengthAdjust="spacingAndGlyphs" transform="scale(1,.7)">A</text>
<text x="11.5" class="T" textLength="10" lengthAdjust="spacingAndGlyphs" transform="translate(0,-7)scale(1,.9)">T</text>
<text x="22.5" class="A" textLength="10" lengthAdjust="spacingAndGlyphs" transform="scale(1,.7)">A</text>
<text x="22.5" class="T" textLength="10" lengthAdjust="spacingAndGlyphs" transform="translate(0,-7)scale(1,2.4)">T</text>
<text x="33.5" class="G" textLength="10" lengthAdjust="spacingAndGlyphs" transform="scale(1,4.5)">G</text>
<text x="44.5" class="T" textLength="10" lengthAdjust="spacingAndGlyphs" transform="scale(1,4.5)">T</text>
<text x="55.5" class="T" textLength="10" lengthAdjust="spacingAndGlyphs" transform="scale(1,4.5)">T</text>
<text x="66.5" class="T" textLength="10" lengthAdjust="spacingAndGlyphs" transform="scale(1,4.5)">T</text>
<text x="77.5" class="A" textLength="10" lengthAdjust="spacingAndGlyphs" transform="scale(1,3.1)">A</text>
<text x="88.5" class="G" textLength="10" lengthAdjust="spacingAndGlyphs" transform="scale(1,.5)">G</text>
<text x="88.5" class="T" textLength="10" lengthAdjust="spacingAndGlyphs" transform="translate(0,-5)scale(1,1.1)">T</text>
<text x="99.5" class="A" textLength="10" lengthAdjust="spacingAndGlyphs" transform="scale(1,.6)">A</text>
<text x="99.5" class="T" textLength="10" lengthAdjust="spacingAndGlyphs" transform="translate(0,-6)scale(1,.6)">T</text>
</g>
<g id="logoD5" class="lg" transform="translate(599.5,70) scale(1.1,1)">
<text x="0.5" class="G" textLength="10" lengthAdjust="spacingAndGlyphs" transform="scale(1,.2)">G</text>
<text x="0.5" class="C" textLength="10" lengthAdjust="spacingAndGlyphs" transform="translate(0,-2)scale(1,.2)">C</text>
<text x="11.5" class="T" textLength="10" lengthAdjust="spacingAndGlyphs" transform="scale(1,.2)">T</text>
<text x="11.5" class="A" textLength="10" lengthAdjust="spacingAndGlyphs" transform="translate(0,-2)scale(1,1.7)">A</text>
<text x="22.5" class="C" textLength="10" lengthAdjust="spacingAndGlyphs" transform="scale(1,4)">C</text>
<text x="33.5" class="C" textLength="10" lengthAdjust="spacingAndGlyphs" transform="scale(1,.6)">C</text>
<text x="33.5" class="T" textLength="10" lengthAdjust="spacingAndGlyphs" transform="translate(0,-6)scale(1,3.4)">T</text>
<text x="44.5" class="C" textLength="10" lengthAdjust="spacingAndGlyphs" transform="scale(1,.3)">C</text>
<text x="44.5" class="T" textLength="10" lengthAdjust="spacingAndGlyphs" transform="translate(0,-3)scale(1,3.7)">T</text>
<text x="55.5" class="T" textLength="10" lengthAdjust="spacingAndGlyphs" transform="scale(1,4.5)">T</text>
<text x="66.5" class="C" textLength="10" lengthAdjust="spacingAndGlyphs" transform="scale(1,4)">C</text>
<text x="77.5" class="C" textLength="10" lengthAdjust="spacingAndGlyphs" transform="scale(1,.3)">C</text>
<text x="77.5" class="A" textLength="10" lengthAdjust="spacingAndGlyphs" transform="translate(0,-3)scale(1,1.6)">A</text>
<text x="88.5" class="T" textLength="10" lengthAdjust="spacingAndGlyphs" transform="scale(1,.3)">T</text>
<text x="88.5" class="C" textLength="10" lengthAdjust="spacingAndGlyphs" transform="translate(0,-3)scale(1,2.8)">C</text>
<text x="99.5" class="C" textLength="10" lengthAdjust="spacingAndGlyphs" transform="scale(1,.3)">C</text>
<text x="99.5" class="T" textLength="10" lengthAdjust="spacingAndGlyphs" transform="translate(0,-3)scale(1,3.2)">T</text>
<text x="110.5" class="C" textLength="10" lengthAdjust="spacingAndGlyphs" transform="scale(1,.4)">C</text>
<text x="110.5" class="T" textLength="10" lengthAdjust="spacingAndGlyphs" transform="translate(0,-4)scale(1,1.4)">T</text>
<text x="121.5" class="C" textLength="10" lengthAdjust="spacingAndGlyphs" transform="scale(1,.3)">C</text>
<text x="121.5" class="T" textLength="10" lengthAdjust="spacingAndGlyphs" transform="translate(0,-3)scale(1,1)">T</text>
<text x="132.5" class="T" textLength="10" lengthAdjust="spacingAndGlyphs" transform="scale(1,.4)">T</text>
<text x="132.5" class="C" textLength="10" lengthAdjust="spacingAndGlyphs" transform="translate(0,-4)scale(1,.6)">C</text>
</g>
<g id="consD">
<text class="cs" x="70" y="92"><tspan class="T">T</tspan><tspan class="G">G</tspan><tspan class="T">T</tspan><tspan class="C">C</tspan><tspan class="T">T</tspan><tspan class="G">GG</tspan></text>
<text class="cs" x="232" y="92"><tspan class="G">G</tspan><tspan class="A">A</tspan><tspan class="G">G</tspan><tspan class="T">T</tspan><tspan class="C">C</tspan><tspan class="A">A</tspan><tspan class="G">G</tspan></text>
<text class="cs" x="379" y="92"><tspan class="A">A</tspan><tspan class="C">C</tspan><tspan class="A">A</tspan><tspan class="C">C</tspan><tspan class="A">AA</tspan><tspan class="T">T</tspan></text>
<text class="cs" x="544" y="92"><tspan class="G">G</tspan><tspan class="T">TTT</tspan><tspan class="A">A</tspan><tspan class="T">T</tspan><tspan class="G">G</tspan></text>
<text class="cs" x="678" y="92"><tspan class="T">TTT</tspan><tspan class="C">C</tspan><tspan class="T">T</tspan><tspan class="C">C</tspan><tspan class="T">T</tspan></text>
</g>
<g id="trackD">
<text class="trk tr" x="89" y="118.5">zf</text><text class="trk tr" x="89" y="135">mm</text><text class="trk tr" x="89" y="151.5">hs</text><text class="trk" x="18" y="135">CNS11</text>
<path class="ln" d="M95 114H646M95 130.5H677M95 147H658"/>
<rect class="c5" x="175" y="105.25" width="9" height="8"/><rect class="c3" x="187.5" y="105.25" width="9" height="8"/><rect class="c4" x="305.5" y="105.25" width="9" height="8"/><rect class="c1" x="527" y="105.25" width="9" height="8"/><rect class="c2" x="635" y="105.25" width="9" height="8"/>
<rect class="c2" x="561.5" y="121.75" width="9" height="8"/><rect class="c4" x="119.5" y="131.5" width="9" height="8"/><rect class="c1" x="157.5" y="131.5" width="9" height="8"/><rect class="c5" x="360" y="131.5" width="9" height="8"/><rect class="c3" x="572" y="131.5" width="9" height="8"/>
<rect class="c2" x="96.5" y="138.25" width="9" height="8"/><rect class="c3" x="165" y="138.25" width="9" height="8"/><rect class="c1" x="408.5" y="138.25" width="9" height="8"/><rect class="c4" x="549.5" y="138.25" width="9" height="8"/><rect class="c5" x="341.5" y="148" width="9" height="8"/>
</g>
</g>

<!-- ================= PANEL E ================= -->
<g id="panelE" transform="translate(0,773)">
<text class="pl" x="2" y="1">E</text>
<text class="ttl" x="82" y="12">CNS12.2: BARHL3</text>
<text class="ttl" x="242" y="12">CNS12.24: TCF2</text>
<text class="ttl" x="378" y="12">CNS12.40: ZEB1</text>
<text class="ttl" x="524" y="12">CNS12.29: FOXK1</text>
<text class="ttl" x="687" y="12">CNS12.13: MEF2A</text>
<g id="yaxE"><text class="bits" transform="translate(12,47.5) rotate(-90)">bits</text><text class="yl" x="21" y="29">2</text><text class="yl" x="21" y="51.5">1</text><text class="yl" x="21" y="74">0</text><path d="M25 25V70M22 25H25M22 47.5H25M22 70H25" stroke="#000" stroke-width="1.2" fill="none"/></g>
<g id="logoE1" class="lg" transform="translate(27,70) scale(1.118,1)">
<text x="0.5" class="A" textLength="10" lengthAdjust="spacingAndGlyphs" transform="scale(1,.2)">A</text>
<text x="0.5" class="C" textLength="10" lengthAdjust="spacingAndGlyphs" transform="translate(0,-2)scale(1,.2)">C</text>
<text x="0.5" class="T" textLength="10" lengthAdjust="spacingAndGlyphs" transform="translate(0,-4)scale(1,1.4)">T</text>
<text x="11.5" class="T" textLength="10" lengthAdjust="spacingAndGlyphs" transform="scale(1,4.5)">T</text>
<text x="22.5" class="A" textLength="10" lengthAdjust="spacingAndGlyphs" transform="scale(1,4.2)">A</text>
<text x="33.5" class="A" textLength="10" lengthAdjust="spacingAndGlyphs" transform="scale(1,4.2)">A</text>
<text x="44.5" class="A" textLength="10" lengthAdjust="spacingAndGlyphs" transform="scale(1,.2)">A</text>
<text x="44.5" class="T" textLength="10" lengthAdjust="spacingAndGlyphs" transform="translate(0,-2)scale(1,3.9)">T</text>
<text x="55.5" class="C" textLength="10" lengthAdjust="spacingAndGlyphs" transform="scale(1,.2)">C</text>
<text x="55.5" class="T" textLength="10" lengthAdjust="spacingAndGlyphs" transform="translate(0,-2)scale(1,3.7)">T</text>
<text x="66.5" class="A" textLength="10" lengthAdjust="spacingAndGlyphs" transform="scale(1,.2)">A</text>
<text x="66.5" class="G" textLength="10" lengthAdjust="spacingAndGlyphs" transform="translate(0,-2)scale(1,3.4)">G</text>
<text x="77.5" class="G" textLength="10" lengthAdjust="spacingAndGlyphs" transform="scale(1,.2)">G</text>
<text x="77.5" class="A" textLength="10" lengthAdjust="spacingAndGlyphs" transform="translate(0,-2)scale(1,.1)">A</text>
<text x="88.5" class="C" textLength="10" lengthAdjust="spacingAndGlyphs" transform="scale(1,.2)">C</text>
<text x="88.5" class="T" textLength="10" lengthAdjust="spacingAndGlyphs" transform="translate(0,-2)scale(1,3.2)">T</text>
<text x="99.5" class="C" textLength="10" lengthAdjust="spacingAndGlyphs" transform="scale(1,.3)">C</text>
<text x="99.5" class="T" textLength="10" lengthAdjust="spacingAndGlyphs" transform="translate(0,-3)scale(1,1.6)">T</text>
<text x="110.5" class="G" textLength="10" lengthAdjust="spacingAndGlyphs" transform="scale(1,.3)">G</text>
<text x="110.5" class="T" textLength="10" lengthAdjust="spacingAndGlyphs" transform="translate(0,-3)scale(1,.5)">T</text>
<text x="121.5" class="A" textLength="10" lengthAdjust="spacingAndGlyphs" transform="scale(1,.3)">A</text>
<text x="121.5" class="T" textLength="10" lengthAdjust="spacingAndGlyphs" transform="translate(0,-3)scale(1,.5)">T</text>
</g>
<g id="logoE2" class="lg" transform="translate(192,70) scale(1.145,1)">
<text x="0.5" class="A" textLength="10" lengthAdjust="spacingAndGlyphs" transform="scale(1,.2)">A</text>
<text x="0.5" class="C" textLength="10" lengthAdjust="spacingAndGlyphs" transform="translate(0,-2)scale(1,.2)">C</text>
<text x="0.5" class="G" textLength="10" lengthAdjust="spacingAndGlyphs" transform="translate(0,-4)scale(1,2.4)">G</text>
<text x="11.5" class="A" textLength="10" lengthAdjust="spacingAndGlyphs" transform="scale(1,.2)">A</text>
<text x="11.5" class="T" textLength="10" lengthAdjust="spacingAndGlyphs" transform="translate(0,-2)scale(1,3.1)">T</text>
<text x="22.5" class="T" textLength="10" lengthAdjust="spacingAndGlyphs" transform="scale(1,4.5)">T</text>
<text x="33.5" class="A" textLength="10" lengthAdjust="spacingAndGlyphs" transform="scale(1,3.8)">A</text>
<text x="44.5" class="A" textLength="10" lengthAdjust="spacingAndGlyphs" transform="scale(1,3.8)">A</text>
<text x="55.5" class="T" textLength="10" lengthAdjust="spacingAndGlyphs" transform="scale(1,.2)">T</text>
<text x="55.5" class="C" textLength="10" lengthAdjust="spacingAndGlyphs" transform="translate(0,-2)scale(1,2.7)">C</text>
<text x="66.5" class="C" textLength="10" lengthAdjust="spacingAndGlyphs" transform="scale(1,.3)">C</text>
<text x="66.5" class="T" textLength="10" lengthAdjust="spacingAndGlyphs" transform="translate(0,-3)scale(1,1.9)">T</text>
<text x="77.5" class="C" textLength="10" lengthAdjust="spacingAndGlyphs" transform="scale(1,.4)">C</text>
<text x="77.5" class="A" textLength="10" lengthAdjust="spacingAndGlyphs" transform="translate(0,-4)scale(1,1.7)">A</text>
<text x="88.5" class="A" textLength="10" lengthAdjust="spacingAndGlyphs" transform="scale(1,.2)">A</text>
<text x="88.5" class="G" textLength="10" lengthAdjust="spacingAndGlyphs" transform="translate(0,-2)scale(1,.7)">G</text>
</g>
<g id="logoE3" class="lg" transform="translate(320,70) scale(1.164,1)">
<text x="0.5" class="T" textLength="10" lengthAdjust="spacingAndGlyphs" transform="scale(1,.3)">T</text>
<text x="0.5" class="C" textLength="10" lengthAdjust="spacingAndGlyphs" transform="translate(0,-3)scale(1,2.6)">C</text>
<text x="11.5" class="A" textLength="10" lengthAdjust="spacingAndGlyphs" transform="scale(1,.2)">A</text>
<text x="11.5" class="T" textLength="10" lengthAdjust="spacingAndGlyphs" transform="translate(0,-2)scale(1,.3)">T</text>
<text x="22.5" class="T" textLength="10" lengthAdjust="spacingAndGlyphs" transform="scale(1,.3)">T</text>
<text x="22.5" class="C" textLength="10" lengthAdjust="spacingAndGlyphs" transform="translate(0,-3)scale(1,2.6)">C</text>
<text x="33.5" class="A" textLength="10" lengthAdjust="spacingAndGlyphs" transform="scale(1,3.8)">A</text>
<text x="44.5" class="C" textLength="10" lengthAdjust="spacingAndGlyphs" transform="scale(1,4.1)">C</text>
<text x="55.5" class="C" textLength="10" lengthAdjust="spacingAndGlyphs" transform="scale(1,4.1)">C</text>
<text x="66.5" class="T" textLength="10" lengthAdjust="spacingAndGlyphs" transform="scale(1,4.1)">T</text>
<text x="77.5" class="G" textLength="10" lengthAdjust="spacingAndGlyphs" transform="scale(1,4.1)">G</text>
</g>
<g id="logoE4" class="lg" transform="translate(449,70) scale(1.109,1)">
<text x="0.5" class="A" textLength="10" lengthAdjust="spacingAndGlyphs" transform="scale(1,.4)">A</text>
<text x="0.5" class="T" textLength="10" lengthAdjust="spacingAndGlyphs" transform="translate(0,-4)scale(1,.4)">T</text>
<text x="11.5" class="A" textLength="10" lengthAdjust="spacingAndGlyphs" transform="scale(1,.5)">A</text>
<text x="11.5" class="T" textLength="10" lengthAdjust="spacingAndGlyphs" transform="translate(0,-5)scale(1,1.8)">T</text>
<text x="22.5" class="T" textLength="10" lengthAdjust="spacingAndGlyphs" transform="scale(1,4.3)">T</text>
<text x="33.5" class="A" textLength="10" lengthAdjust="spacingAndGlyphs" transform="scale(1,.4)">A</text>
<text x="33.5" class="G" textLength="10" lengthAdjust="spacingAndGlyphs" transform="translate(0,-4)scale(1,2.7)">G</text>
<text x="44.5" class="T" textLength="10" lengthAdjust="spacingAndGlyphs" transform="scale(1,4.3)">T</text>
<text x="55.5" class="G" textLength="10" lengthAdjust="spacingAndGlyphs" transform="scale(1,.2)">G</text>
<text x="55.5" class="T" textLength="10" lengthAdjust="spacingAndGlyphs" transform="translate(0,-2)scale(1,3.9)">T</text>
<text x="66.5" class="T" textLength="10" lengthAdjust="spacingAndGlyphs" transform="scale(1,3.8)">T</text>
<text x="77.5" class="A" textLength="10" lengthAdjust="spacingAndGlyphs" transform="scale(1,2.9)">A</text>
<text x="88.5" class="G" textLength="10" lengthAdjust="spacingAndGlyphs" transform="scale(1,.3)">G</text>
<text x="88.5" class="C" textLength="10" lengthAdjust="spacingAndGlyphs" transform="translate(0,-3)scale(1,1.3)">C</text>
<text x="99.5" class="T" textLength="10" lengthAdjust="spacingAndGlyphs" transform="scale(1,.3)">T</text>
<text x="99.5" class="A" textLength="10" lengthAdjust="spacingAndGlyphs" transform="translate(0,-3)scale(1,.6)">A</text>
<text x="110.5" class="A" textLength="10" lengthAdjust="spacingAndGlyphs" transform="scale(1,.3)">A</text>
<text x="110.5" class="T" textLength="10" lengthAdjust="spacingAndGlyphs" transform="translate(0,-3)scale(1,.3)">T</text>
<text x="121.5" class="A" textLength="10" lengthAdjust="spacingAndGlyphs" transform="scale(1,.4)">A</text>
<text x="121.5" class="T" textLength="10" lengthAdjust="spacingAndGlyphs" transform="translate(0,-4)scale(1,.5)">T</text>
</g>
<g id="logoE5" class="lg" transform="translate(616.5,70) scale(1.064,1)">
<text x="0.5" class="C" textLength="10" lengthAdjust="spacingAndGlyphs" transform="scale(1,.2)">C</text>
<text x="0.5" class="G" textLength="10" lengthAdjust="spacingAndGlyphs" transform="translate(0,-2)scale(1,.2)">G</text>
<text x="11.5" class="T" textLength="10" lengthAdjust="spacingAndGlyphs" transform="scale(1,.3)">T</text>
<text x="11.5" class="C" textLength="10" lengthAdjust="spacingAndGlyphs" transform="translate(0,-3)scale(1,1.6)">C</text>
<text x="22.5" class="C" textLength="10" lengthAdjust="spacingAndGlyphs" transform="scale(1,.5)">C</text>
<text x="22.5" class="T" textLength="10" lengthAdjust="spacingAndGlyphs" transform="translate(0,-5)scale(1,1.4)">T</text>
<text x="33.5" class="C" textLength="10" lengthAdjust="spacingAndGlyphs" transform="scale(1,.3)">C</text>
<text x="33.5" class="A" textLength="10" lengthAdjust="spacingAndGlyphs" transform="translate(0,-3)scale(1,1.8)">A</text>
<text x="44.5" class="T" textLength="10" lengthAdjust="spacingAndGlyphs" transform="scale(1,.2)">T</text>
<text x="44.5" class="A" textLength="10" lengthAdjust="spacingAndGlyphs" transform="translate(0,-2)scale(1,.9)">A</text>
<text x="55.5" class="A" textLength="10" lengthAdjust="spacingAndGlyphs" transform="scale(1,2.6)">A</text>
<text x="66.5" class="A" textLength="10" lengthAdjust="spacingAndGlyphs" transform="scale(1,2.9)">A</text>
<text x="77.5" class="A" textLength="10" lengthAdjust="spacingAndGlyphs" transform="scale(1,2.9)">A</text>
<text x="88.5" class="T" textLength="10" lengthAdjust="spacingAndGlyphs" transform="scale(1,4.3)">T</text>
<text x="99.5" class="A" textLength="10" lengthAdjust="spacingAndGlyphs" transform="scale(1,2.9)">A</text>
<text x="110.5" class="A" textLength="10" lengthAdjust="spacingAndGlyphs" transform="scale(1,.2)">A</text>
<text x="110.5" class="G" textLength="10" lengthAdjust="spacingAndGlyphs" transform="translate(0,-2)scale(1,.7)">G</text>
<text x="121.5" class="C" textLength="10" lengthAdjust="spacingAndGlyphs" transform="scale(1,.2)">C</text>
<text x="121.5" class="A" textLength="10" lengthAdjust="spacingAndGlyphs" transform="translate(0,-2)scale(1,.2)">A</text>
<text x="121.5" class="G" textLength="10" lengthAdjust="spacingAndGlyphs" transform="translate(0,-4)scale(1,.2)">G</text>
</g>
<g id="consE">
<text class="cs" x="101" y="92"><tspan class="T">T</tspan><tspan class="A">AA</tspan><tspan class="T">TT</tspan><tspan class="G">GG</tspan><tspan class="T">TTT</tspan></text>
<text class="cs" x="249" y="92"><tspan class="T">TT</tspan><tspan class="A">AA</tspan><tspan class="C">C</tspan><tspan class="T">T</tspan><tspan class="A">A</tspan></text>
<text class="cs" x="390" y="92"><tspan class="C">C</tspan><tspan class="A">A</tspan><tspan class="C">CC</tspan><tspan class="T">T</tspan><tspan class="G">G</tspan><tspan class="T">T</tspan></text>
<text class="cs" x="494" y="92"><tspan class="T">TTT</tspan><tspan class="G">G</tspan><tspan class="T">TTT</tspan></text>
<text class="cs" x="682" y="92"><tspan class="T">T</tspan><tspan class="A">AAAAA</tspan><tspan class="T">T</tspan></text>
</g>
<g id="trackE">
<text class="trk tr" x="89" y="118.5">zf</text><text class="trk tr" x="89" y="135">mm</text><text class="trk tr" x="89" y="151.5">hs</text><text class="trk" x="18" y="135">CNS12</text>
<path class="ln" d="M95 114H652M95 130.5H677M95 147H677"/>
<rect class="c4" x="164" y="105.25" width="9" height="8"/><rect class="c2" x="175.5" y="105.25" width="9" height="8"/><rect class="c3" x="342.5" y="105.25" width="9" height="8"/><rect class="c5" x="396.5" y="105.25" width="9" height="8"/><rect class="c1" x="426.5" y="105.25" width="9" height="8"/>
<rect class="c1" x="121" y="121.75" width="9" height="8"/><rect class="c4" x="178" y="121.75" width="9" height="8"/><rect class="c2" x="248.5" y="131.5" width="9" height="8"/><rect class="c5" x="352.5" y="131.5" width="9" height="8"/><rect class="c3" x="612.5" y="131.5" width="9" height="8"/>
<rect class="c1" x="120.5" y="138.25" width="9" height="8"/><rect class="c4" x="366.5" y="138.25" width="9" height="8"/><rect class="c3" x="630.5" y="138.25" width="9" height="8"/><rect class="c2" x="251" y="148" width="9" height="8"/><rect class="c5" x="354.5" y="148" width="9" height="8"/>
</g>
</g>

<!-- ================= AXIS & KEY ================= -->
<g id="axis">
<path d="M95 947H740" stroke="#000" stroke-width="2"/>
<path d="M95 941V952M153.6 941V952M212.3 941V952M270.9 941V952M329.5 941V952M388.2 941V952M446.8 941V952M505.5 941V952M564.1 941V952M622.7 941V952M681.4 941V952M740 941V952" stroke="#000" stroke-width="1.3"/>
<text class="ax" x="95" y="964" textLength="6" lengthAdjust="spacingAndGlyphs">0</text>
<text class="ax" x="153.6" y="964" textLength="16" lengthAdjust="spacingAndGlyphs">100</text>
<text class="ax" x="212.3" y="964" textLength="16" lengthAdjust="spacingAndGlyphs">200</text>
<text class="ax" x="270.9" y="964" textLength="16" lengthAdjust="spacingAndGlyphs">300</text>
<text class="ax" x="329.5" y="964" textLength="16" lengthAdjust="spacingAndGlyphs">400</text>
<text class="ax" x="388.2" y="964" textLength="16" lengthAdjust="spacingAndGlyphs">500</text>
<text class="ax" x="446.8" y="964" textLength="16" lengthAdjust="spacingAndGlyphs">600</text>
<text class="ax" x="505.5" y="964" textLength="16" lengthAdjust="spacingAndGlyphs">700</text>
<text class="ax" x="564.1" y="964" textLength="16" lengthAdjust="spacingAndGlyphs">800</text>
<text class="ax" x="622.7" y="964" textLength="16" lengthAdjust="spacingAndGlyphs">900</text>
<text class="ax" x="681.4" y="964" textLength="22" lengthAdjust="spacingAndGlyphs">1000</text>
<text class="ax" x="740" y="964" textLength="22" lengthAdjust="spacingAndGlyphs">1100</text>
</g>
<g id="key">
<text class="key" x="117" y="988" textLength="100" lengthAdjust="spacingAndGlyphs">Site color key - 1:</text>
<rect class="c1" x="220" y="980.5" width="9" height="8"/>
<text class="key" x="240" y="988" textLength="10" lengthAdjust="spacingAndGlyphs">2:</text>
<rect class="c2" x="254" y="980.5" width="9" height="8"/>
<text class="key" x="272" y="988" textLength="10" lengthAdjust="spacingAndGlyphs">3:</text>
<rect class="c3" x="284" y="980.5" width="9" height="8"/>
<text class="key" x="303" y="988" textLength="10" lengthAdjust="spacingAndGlyphs">4:</text>
<rect class="c4" x="316" y="980.5" width="9" height="8"/>
<text class="key" x="337" y="988" textLength="10" lengthAdjust="spacingAndGlyphs">5:</text>
<rect class="c5" x="349" y="980.5" width="9" height="8"/>
</g>
</svg>
